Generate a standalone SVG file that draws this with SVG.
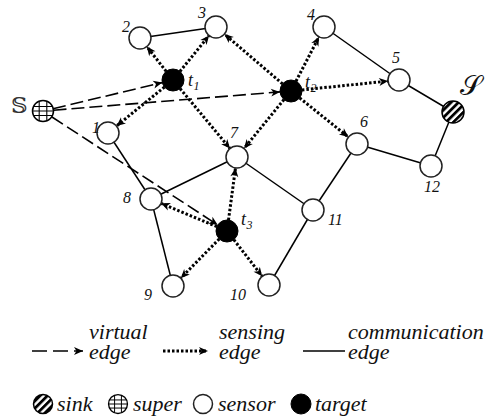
<svg xmlns="http://www.w3.org/2000/svg" width="488" height="419" viewBox="0 0 488 419">
<style>
.comm{stroke:#000;stroke-width:1.5;fill:none}
.sens{stroke:#000;stroke-width:3;stroke-dasharray:2.5 2;fill:none;marker-end:url(#ah)}
.virt{stroke:#000;stroke-width:1.6;stroke-dasharray:13 5;fill:none;marker-end:url(#ah)}
.sensor{fill:#fff;stroke:#222;stroke-width:1.5}
.target{fill:#000;stroke:#000;stroke-width:1}
.lbl{font-family:"Liberation Serif","Times New Roman",serif;font-style:italic;font-size:16px;fill:#111}
.tl{font-family:"Liberation Serif","Times New Roman",serif;font-style:italic;font-size:18px;fill:#111}
.sub{font-family:"Liberation Serif","Times New Roman",serif;font-style:italic;font-size:12px;fill:#111}
.leg{font-family:"Liberation Serif","Times New Roman",serif;font-style:italic;font-size:22px;fill:#111}
.grid{stroke:#000;stroke-width:1.1}
</style>
<defs>
<marker id="ah" markerUnits="userSpaceOnUse" viewBox="-10 -5 11 10" refX="0" refY="0" markerWidth="11" markerHeight="10" orient="auto">
<path d="M0,0 L-9,-4 L-6.5,0 L-9,4 Z" fill="#000"/>
</marker>
<pattern id="hatch" patternUnits="userSpaceOnUse" width="5.2" height="5.2" patternTransform="rotate(45)">
<rect x="0" y="0" width="5.2" height="5.2" fill="#fff"/>
<rect x="0" y="0" width="2.8" height="5.2" fill="#000"/>
</pattern>
<clipPath id="superClip"><circle cx="0" cy="0" r="10.5"/></clipPath>
<g id="superSym">
<circle cx="0" cy="0" r="10.5" fill="#fff"/>
<g clip-path="url(#superClip)" class="grid">
<line x1="-3.8" y1="-11" x2="-3.8" y2="11"/>
<line x1="3.8" y1="-11" x2="3.8" y2="11"/>
<line x1="-11" y1="-4.5" x2="11" y2="-4.5"/>
<line x1="-11" y1="0" x2="11" y2="0"/>
<line x1="-11" y1="4.5" x2="11" y2="4.5"/>
</g>
<circle cx="0" cy="0" r="10.5" fill="none" stroke="#000" stroke-width="1.5"/>
</g>
</defs>

<g id="connectors">
<!-- communication edges -->
<line class="comm" x1="140" y1="38" x2="216" y2="27"/>
<line class="comm" x1="324" y1="27" x2="399" y2="80"/>
<line class="comm" x1="399" y1="80" x2="453" y2="112"/>
<line class="comm" x1="453" y1="112" x2="431" y2="166"/>
<line class="comm" x1="431" y1="166" x2="357" y2="144"/>
<line class="comm" x1="357" y1="144" x2="313" y2="210"/>
<line class="comm" x1="313" y1="210" x2="269" y2="285"/>
<line class="comm" x1="237" y1="157" x2="313" y2="210"/>
<line class="comm" x1="237" y1="157" x2="151" y2="199"/>
<line class="comm" x1="108" y1="133" x2="151" y2="199"/>
<line class="comm" x1="151" y1="199" x2="173" y2="286"/>
<!-- virtual edges -->
<line class="virt" x1="53" y1="108.7" x2="162.3" y2="82.6"/>
<line class="virt" x1="53.5" y1="110.2" x2="280" y2="91.9"/>
<line class="virt" x1="52" y1="117" x2="217.8" y2="225"/>
<!-- sensing edges -->
<line class="sens" x1="166.2" y1="71.4" x2="146.8" y2="46.6"/>
<line class="sens" x1="179.9" y1="71.5" x2="209.1" y2="35.5"/>
<line class="sens" x1="164.5" y1="87" x2="116.5" y2="126"/>
<line class="sens" x1="180" y1="88.5" x2="230" y2="148.5"/>
<line class="sens" x1="282.6" y1="83.9" x2="224.4" y2="34.1"/>
<line class="sens" x1="296" y1="81.2" x2="319" y2="36.8"/>
<line class="sens" x1="301.9" y1="89.9" x2="388.1" y2="81.1"/>
<line class="sens" x1="299.6" y1="97.9" x2="348.4" y2="137.1"/>
<line class="sens" x1="284" y1="99.5" x2="244" y2="148.5"/>
<line class="sens" x1="228.5" y1="220.1" x2="235.5" y2="167.9"/>
<line class="sens" x1="216.9" y1="226.7" x2="161.1" y2="203.3"/>
<line class="sens" x1="219.3" y1="238.9" x2="180.7" y2="278.2"/>
<line class="sens" x1="233.8" y1="239.7" x2="262.2" y2="276.3"/>
</g>

<g id="node-S">
<use href="#superSym" x="43" y="111"/>
<text x="11" y="113" font-family="DejaVu Serif, DejaVu Sans, serif" font-size="23" fill="#333">𝕊</text>
</g>
<g id="node-sink">
<circle cx="453" cy="112" r="11" fill="url(#hatch)" stroke="#000" stroke-width="1.5"/>
<text x="471" y="95" text-anchor="middle" font-family="DejaVu Serif, Noto Sans, serif" font-size="28" fill="#111">𝒮</text>
</g>
<g id="node-1"><circle class="sensor" cx="108" cy="133" r="11"/><text class="lbl" x="92" y="133">1</text></g>
<g id="node-2"><circle class="sensor" cx="140" cy="38" r="11"/><text class="lbl" x="122" y="32">2</text></g>
<g id="node-3"><circle class="sensor" cx="216" cy="27" r="11"/><text class="lbl" x="198" y="18">3</text></g>
<g id="node-4"><circle class="sensor" cx="324" cy="27" r="11"/><text class="lbl" x="307" y="20">4</text></g>
<g id="node-5"><circle class="sensor" cx="399" cy="80" r="11"/><text class="lbl" x="392" y="63">5</text></g>
<g id="node-6"><circle class="sensor" cx="357" cy="144" r="11"/><text class="lbl" x="360" y="127">6</text></g>
<g id="node-7"><circle class="sensor" cx="237" cy="157" r="11"/><text class="lbl" x="230" y="138">7</text></g>
<g id="node-8"><circle class="sensor" cx="151" cy="199" r="11"/><text class="lbl" x="123" y="203">8</text></g>
<g id="node-9"><circle class="sensor" cx="173" cy="286" r="11"/><text class="lbl" x="144" y="300">9</text></g>
<g id="node-10"><circle class="sensor" cx="269" cy="285" r="11"/><text class="lbl" x="230" y="300">10</text></g>
<g id="node-11"><circle class="sensor" cx="313" cy="210" r="11"/><text class="lbl" x="328" y="225">11</text></g>
<g id="node-12"><circle class="sensor" cx="431" cy="166" r="11"/><text class="lbl" x="424" y="192">12</text></g>
<g id="node-t1"><circle class="target" cx="173" cy="80" r="11"/><text class="tl" x="188" y="86">t</text><text class="sub" x="193.5" y="90">1</text></g>
<g id="node-t2"><circle class="target" cx="291" cy="91" r="11"/><text class="tl" x="305" y="88">t</text><text class="sub" x="310.5" y="92">2</text></g>
<g id="node-t3"><circle class="target" cx="227" cy="231" r="11"/><text class="tl" x="241" y="225">t</text><text class="sub" x="246.5" y="229">3</text></g>

<g id="legend">
<line class="virt" x1="32" y1="351" x2="83" y2="351" style="stroke-dasharray:15 6"/>
<text class="leg" x="89" y="339">virtual</text>
<text class="leg" x="89" y="359">edge</text>
<line class="sens" x1="163" y1="351" x2="208" y2="351"/>
<text class="leg" x="219" y="339">sensing</text>
<text class="leg" x="219" y="359">edge</text>
<line class="comm" x1="303" y1="351" x2="345" y2="351"/>
<text class="leg" x="348" y="339">communication</text>
<text class="leg" x="348" y="359">edge</text>

<circle cx="43" cy="404" r="9.5" fill="url(#hatch)" stroke="#000" stroke-width="1.5"/>
<text class="leg" x="57" y="411">sink</text>
<use href="#superSym" transform="translate(118 404) scale(0.9)"/>
<text class="leg" x="133" y="411">super</text>
<circle class="sensor" cx="203" cy="404" r="9.5"/>
<text class="leg" x="218" y="411">sensor</text>
<circle class="target" cx="301" cy="404" r="10"/>
<text class="leg" x="315" y="411">target</text>
</g>
</svg>
